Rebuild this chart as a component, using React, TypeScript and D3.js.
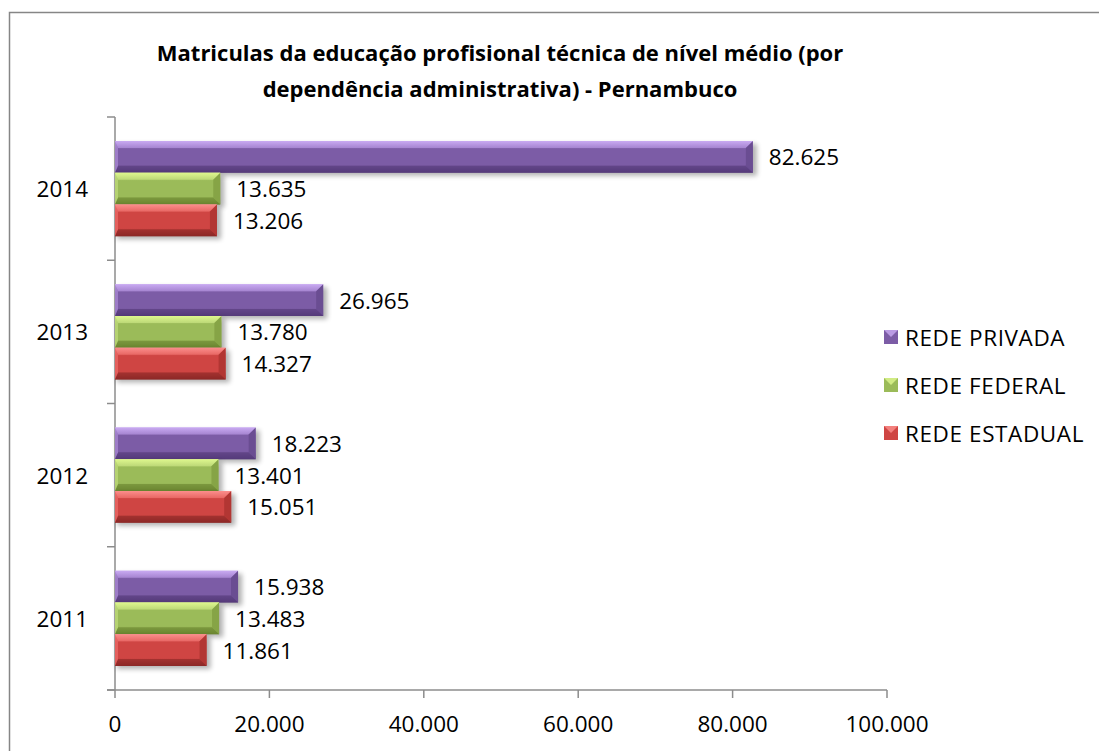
import React from "react";
import * as d3 from "d3";

const years = ["2014", "2013", "2012", "2011"];
const seriesNames = ["REDE PRIVADA", "REDE FEDERAL", "REDE ESTADUAL"];
const privada = [82625, 26965, 18223, 15938];
const federal = [13635, 13780, 13401, 13483];
const estadual = [13206, 14327, 15051, 11861];
const xTicks = [0, 20000, 40000, 60000, 80000, 100000];
const titleLines = [
  "Matriculas da educação profisional técnica de nível médio (por",
  "dependência administrativa) - Pernambuco",
];

const palettes = [
  { id: "p", top: "#c9aaf2", face: "#7c5ca6", dark: "#553a7a", side: "#6a4d92", light: "#a584d0" },
  { id: "g", top: "#def78e", face: "#9bbb59", dark: "#6b8630", side: "#86a446", light: "#bcd877" },
  { id: "r", top: "#fb8e8c", face: "#cf4543", dark: "#8c2826", side: "#b23633", light: "#e86764" },
];

const locale = d3.formatLocale({ decimal: ",", thousands: ".", grouping: [3], currency: ["", ""] });
const fmt = locale.format(",d");

export default function App() {
  const W = 1099, H = 751;
  const x = d3.scaleLinear().domain([0, 100000]).range([115, 887]);
  const y = d3.scaleBand<string>().domain(years).range([117, 690]).padding(0);
  const inner = d3
    .scaleBand<string>()
    .domain(seriesNames)
    .range([0, y.bandwidth()])
    .paddingInner(0)
    .paddingOuter(0.756);
  const values = [privada, federal, estadual];
  const font = "'Open Sans', 'DejaVu Sans', sans-serif";
  const fs = 22.5;
  const b = 7;

  const bars: React.ReactNode[] = [];
  years.forEach((yr, i) => {
    seriesNames.forEach((s, k) => {
      const v = values[k][i];
      const pal = palettes[k];
      const x0 = x(0);
      const x1 = x(v);
      const y0 = (y(yr) as number) + (inner(s) as number);
      const h = inner.bandwidth();
      const y1 = y0 + h;
      bars.push(
        <g key={yr + s}>
          <rect x={x0 + 2} y={y0 + 3} width={x1 - x0 + 2} height={h} fill="#000" opacity={0.3} filter="url(#blur)" />
          <rect x={x0} y={y0} width={x1 - x0} height={h} fill={`url(#grad-${pal.id})`} />
          <polygon points={`${x0},${y0} ${x1},${y0} ${x1 - b},${y0 + b} ${x0 + 3},${y0 + b}`} fill={`url(#top-${pal.id})`} />
          <polygon points={`${x0 + 3},${y1 - b} ${x1 - b},${y1 - b} ${x1},${y1} ${x0},${y1}`} fill={pal.dark} opacity={0.6} />
          <polygon points={`${x1 - b},${y0 + b} ${x1},${y0} ${x1},${y1} ${x1 - b},${y1 - b}`} fill={pal.side} />
          <polygon points={`${x0},${y0} ${x0 + 3},${y0 + b} ${x0 + 3},${y1 - b} ${x0},${y1}`} fill={pal.light} opacity={0.8} />
          <text x={x1 + 16} y={y0 + h / 2} dominantBaseline="central" fontFamily={font} fontSize={fs} fill="#000">
            {fmt(v)}
          </text>
        </g>
      );
    });
  });

  return (
    <svg width={W} height={H} style={{ position: "absolute", left: 0, top: 0, background: "#fff" }}>
      <defs>
        <filter id="blur" x="-10%" y="-50%" width="120%" height="200%">
          <feGaussianBlur stdDeviation="2.5" />
        </filter>
        {palettes.map((p) => (
          <React.Fragment key={p.id}>
            <linearGradient id={`grad-${p.id}`} x1="0" y1="0" x2="0" y2="1">
              <stop offset="0" stopColor={p.top} />
              <stop offset="0.25" stopColor={p.face} />
              <stop offset="0.75" stopColor={p.face} />
              <stop offset="1" stopColor={p.dark} />
            </linearGradient>
            <linearGradient id={`top-${p.id}`} x1="0" y1="0" x2="0" y2="1">
              <stop offset="0" stopColor={p.top} />
              <stop offset="1" stopColor={p.light} />
            </linearGradient>
          </React.Fragment>
        ))}
      </defs>
      <rect x={9.5} y={12.5} width={1200} height={1000} fill="#fff" stroke="#868686" strokeWidth={1.5} />
      {titleLines.map((t, i) => (
        <text
          key={i}
          x={500}
          y={52 + i * 36}
          textAnchor="middle"
          dominantBaseline="central"
          fontFamily={font}
          fontWeight="bold"
          fontSize={22}
          fill="#000"
        >
          {t}
        </text>
      ))}
      {/* y axis */}
      <line x1={115} x2={115} y1={117} y2={690} stroke="#8c8c8c" strokeWidth={1.5} />
      {[...years.map((yr) => y(yr) as number), 690].map((v, i) => (
        <line key={i} x1={107} x2={115} y1={v} y2={v} stroke="#8c8c8c" strokeWidth={1.5} />
      ))}
      {years.map((yr) => (
        <text
          key={yr}
          x={88}
          y={(y(yr) as number) + y.bandwidth() / 2}
          textAnchor="end"
          dominantBaseline="central"
          fontFamily={font}
          fontSize={fs}
          fill="#000"
        >
          {yr}
        </text>
      ))}
      {/* x axis */}
      <line x1={107} x2={887} y1={690} y2={690} stroke="#8c8c8c" strokeWidth={1.5} />
      {xTicks.map((t) => (
        <g key={t}>
          <line x1={x(t)} x2={x(t)} y1={690} y2={698} stroke="#8c8c8c" strokeWidth={1.5} />
          <text x={x(t)} y={723} textAnchor="middle" dominantBaseline="central" fontFamily={font} fontSize={fs} fill="#000">
            {fmt(t)}
          </text>
        </g>
      ))}
      {bars}
      {/* legend */}
      {seriesNames.map((s, k) => {
        const ly = 337 + k * 48;
        const pal = palettes[k];
        return (
          <g key={s}>
            <rect x={884} y={ly - 7} width={14} height={14} fill={pal.face} />
            <polygon points={`${884},${ly - 7} ${898},${ly - 7} ${891},${ly}`} fill={pal.top} opacity={0.8} />
            <text x={905} y={ly} dominantBaseline="central" fontFamily={font} fontSize={22.5} letterSpacing={0.6} fill="#000">
              {s}
            </text>
          </g>
        );
      })}
    </svg>
  );
}
